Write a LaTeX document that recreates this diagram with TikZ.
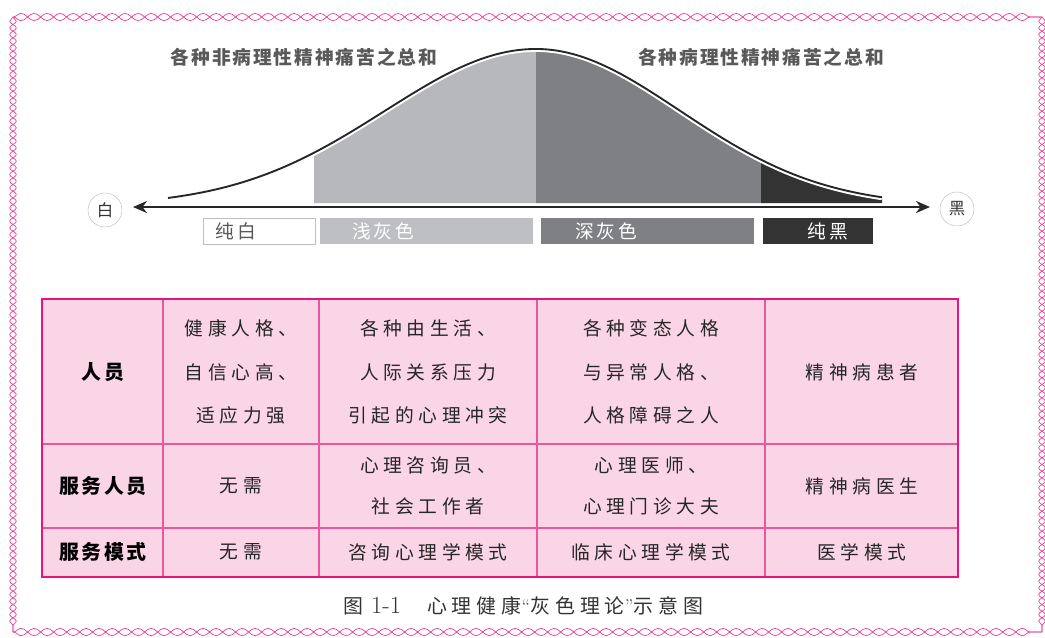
\documentclass[tikz,border=0pt]{standalone}
\usepackage{fontspec}
\usetikzlibrary{arrows.meta,decorations.pathmorphing}
\newfontfamily\cjk[LetterSpace=25]{Noto Sans CJK SC}
\newfontfamily\cjkhd[LetterSpace=12]{Noto Sans CJK SC}
\newfontfamily\cjktop[LetterSpace=10]{Noto Sans CJK SC}
\newfontfamily\cjkbar[LetterSpace=15]{Noto Sans CJK SC}
\newfontfamily\cjkcap[LetterSpace=25]{Noto Sans CJK SC}
\definecolor{tabline}{HTML}{E6147F}
\definecolor{tabin}{HTML}{E9579F}
\definecolor{tabfill}{HTML}{F9D5E6}
\definecolor{wave}{HTML}{EC3F98}
\definecolor{lightg}{HTML}{B7B8BB}
\definecolor{darkg}{HTML}{7F8084}
\definecolor{blackg}{HTML}{333333}
\tikzset{
  cell/.style={align=center,text=black!85,inner sep=0pt,
    font=\fontsize{16pt}{#1}\selectfont\cjk},
  cell/.default=37pt,
  hd/.style={inner sep=0pt,text=black,font=\fontsize{17pt}{20pt}\selectfont\cjkhd\bfseries},
  toplabel/.style={inner sep=0pt,text=black!65,font=\fontsize{16pt}{20pt}\selectfont\cjktop\bfseries},
  barlabel/.style={inner sep=0pt,font=\fontsize{16pt}{20pt}\selectfont\cjkbar},
  endcircle/.style={circle,draw=black!25,fill=white,minimum size=1.02cm,inner sep=0pt,
    text=black!80,font=\fontsize{14pt}{16pt}\selectfont\cjkbar},
  wavetb/.style={wave,line width=0.6pt,decorate,
    decoration={snake,segment length=0.78cm,amplitude=0.11cm}},
  wavelr/.style={wave,line width=0.6pt,decorate,
    decoration={snake,segment length=0.4cm,amplitude=0.1cm}}
}
\begin{document}
\begin{tikzpicture}[x=0.03cm,y=-0.03cm]
 \useasboundingbox (0,0) rectangle (1045,637);
 % pink border
 \draw[wavetb] (13,17) -- (1042,17);
 \draw[wavetb,decoration={mirror}] (13,17) -- (1042,17);
 \draw[wavetb] (13,632) -- (1042,632);
 \draw[wavetb,decoration={mirror}] (13,632) -- (1042,632);
 \draw[wavelr] (13,17) -- (13,632);
 \draw[wavelr,decoration={mirror}] (13,17) -- (13,632);
 \draw[wavelr] (1042,17) -- (1042,632);
 \draw[wavelr,decoration={mirror}] (1042,17) -- (1042,632);
 % areas under the curve
 \fill[lightg](314,203)--plot[domain=314:536,samples=50](\x,{206-157*exp(-0.5*((\x-536)/151)^2)})--(536,203)--cycle;
 \fill[darkg](536,203)--plot[domain=536:761,samples=50](\x,{206-157*exp(-0.5*((\x-536)/144)^2)})--(761,203)--cycle;
 \fill[blackg](761,203)--plot[domain=761:882,samples=30](\x,{206-157*exp(-0.5*((\x-536)/144)^2)})--(882,203)--cycle;
 % the curve
 \draw[white,line width=5pt]plot[domain=168:536,samples=80](\x,{206-157*exp(-0.5*((\x-536)/151)^2)});
 \draw[white,line width=5pt]plot[domain=536:882,samples=80](\x,{206-157*exp(-0.5*((\x-536)/144)^2)});
 \draw[black!85,line width=1.6pt]plot[domain=168:536,samples=80](\x,{206-157*exp(-0.5*((\x-536)/151)^2)});
 \draw[black!85,line width=1.6pt]plot[domain=536:882,samples=80](\x,{206-157*exp(-0.5*((\x-536)/144)^2)});
 \node[toplabel] (feibing) at (304,57) {各种非病理性精神痛苦之总和};
 \node[toplabel] (bingli) at (761,57) {各种病理性精神痛苦之总和};
 % axis
 \node[endcircle] (bai) at (105,210) {白};
 \node[endcircle] (hei) at (957,209) {黑};
 \coordinate (axl) at (133,207);
 \coordinate (axr) at (930,207);
 \draw[black!85,line width=2pt,{Stealth[length=0.42cm,width=0.36cm]}-{Stealth[length=0.42cm,width=0.36cm]}] (axl) -- (axr);
 % bars
 \draw[black!25,fill=white] (203,218) rectangle (315,244);
 \fill[lightg!90!white] (320,218) rectangle (533,244);
 \fill[darkg] (541,218) rectangle (754,244);
 \fill[blackg] (763,218) rectangle (873,244);
 \node[barlabel,text=black!65] (chunbai) at (236,231) {纯白};
 \node[barlabel,text=white] (qianhui) at (383,231) {浅灰色};
 \node[barlabel,text=white] (shenhui) at (606,231) {深灰色};
 \node[barlabel,text=white] (chunhei) at (828,231) {纯黑};
 % table
 \fill[tabfill] (42,299) rectangle (958,577);
 \foreach \x in {163,319,537,765} \draw[tabin,line width=1.2pt] (\x,299) -- (\x,577);
 \foreach \y in {444,528} \draw[tabin,line width=1.2pt] (42,\y) -- (958,\y);
 \draw[tabline,line width=2pt] (42,299) rectangle (958,577);
 \node[hd] (renyuan) at (103,372) {人员};
 \node[hd] (fuwu) at (103,486) {服务人员};
 \node[hd] (moshi) at (103,552) {服务模式};
 \node[cell] (ren-a) at (241,372) {健康人格、\\自信心高、\\适应力强};
 \node[cell] (ren-b) at (428,372) {各种由生活、\\人际关系压力\\引起的心理冲突};
 \node[cell] (ren-c) at (651,372) {各种变态人格\\与异常人格、\\人格障碍之人};
 \node[cell] (ren-d) at (862,372) {精神病患者};
 \node[cell] (fuwu-a) at (241,486) {无需};
 \node[cell=35pt] (fuwu-b) at (428,486) {心理咨询员、\\社会工作者};
 \node[cell=35pt] (fuwu-c) at (651,486) {心理医师、\\心理门诊大夫};
 \node[cell] (fuwu-d) at (862,486) {精神病医生};
 \node[cell] (moshi-a) at (241,552) {无需};
 \node[cell] (moshi-b) at (428,552) {咨询心理学模式};
 \node[cell] (moshi-c) at (651,552) {临床心理学模式};
 \node[cell] (moshi-d) at (862,552) {医学模式};
 % caption
 \node[inner sep=0pt,anchor=west,text=black!80,font=\fontsize{17pt}{20pt}\selectfont] (caption) at (343,606)
   {{\cjkcap 图}\hspace{0.4em}{\fontsize{21pt}{22pt}\selectfont 1-1}\hspace{1.3em}{\cjkcap 心理健康}“{\cjkcap 灰色理论}”{\cjkcap 示意图}};
\end{tikzpicture}
\end{document}
